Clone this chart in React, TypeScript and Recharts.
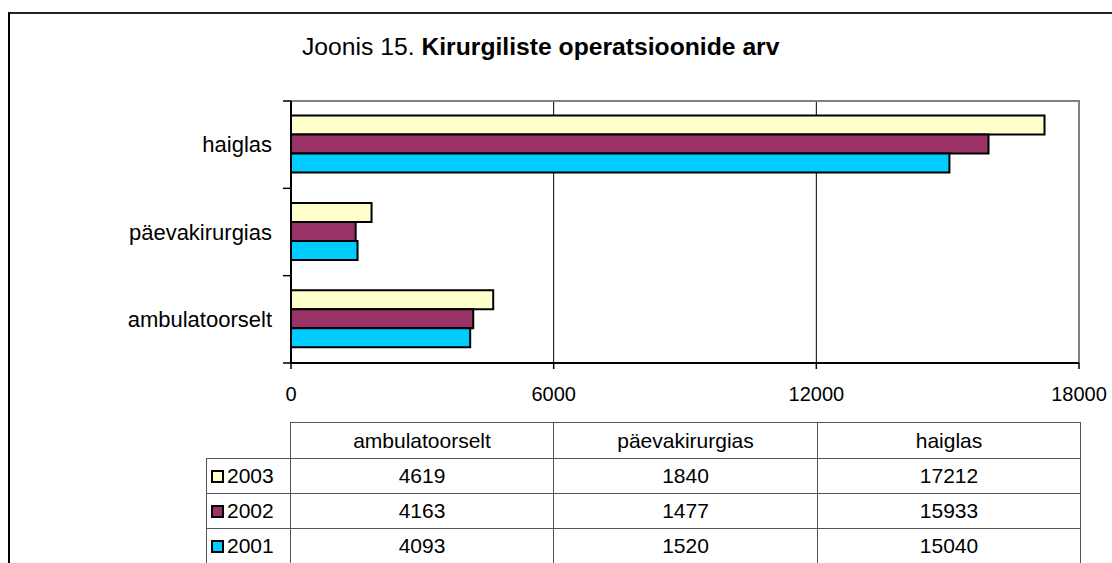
import React from 'react';
import {
  BarChart,
  Bar,
  XAxis,
  YAxis,
  CartesianGrid,
  ReferenceArea,
} from 'recharts';

// table order (left to right); the chart shows them bottom to top
const categories = ['ambulatoorselt', 'päevakirurgias', 'haiglas'];
const years = ['2003', '2002', '2001'];
const values2003 = [4619, 1840, 17212];
const values2002 = [4163, 1477, 15933];
const values2001 = [4093, 1520, 15040];
const xTicks = [0, 6000, 12000, 18000];

const FONT = '"Liberation Sans", Arial, sans-serif';
const COLORS: Record<string, string> = {
  '2003': '#FFFFCC',
  '2002': '#993366',
  '2001': '#00CCFF',
};
const seriesValues: Record<string, number[]> = {
  '2003': values2003,
  '2002': values2002,
  '2001': values2001,
};

const chartData = categories
  .map((cat, i) => ({
    cat,
    y2003: values2003[i],
    y2002: values2002[i],
    y2001: values2001[i],
  }))
  .reverse();

const X_TICK_STYLE = { fill: '#000', fontSize: 20, fontFamily: FONT };

function CategoryTick(props: any) {
  const { x, y, payload, index, visibleTicksCount, height } = props;
  const half = payload?.offset || height / visibleTicksCount / 2;
  const axisX = x + 19;
  const isLast = index === visibleTicksCount - 1;
  return (
    <g>
      <line x1={axisX - 8} x2={axisX} y1={y - half} y2={y - half} stroke="#000" strokeWidth={1.5} />
      {isLast && (
        <line x1={axisX - 8} x2={axisX} y1={y + half} y2={y + half} stroke="#000" strokeWidth={1.5} />
      )}
      <text x={x} y={y} dy="0.355em" textAnchor="end" fill="#000" fontSize={22} fontFamily={FONT}>
        {payload.value}
      </text>
    </g>
  );
}

const cellStyle: React.CSSProperties = {
  border: '1px solid #555',
  padding: 0,
  height: 34,
  textAlign: 'center',
  verticalAlign: 'middle',
};

export default function App() {
  return (
    <div
      style={{
        position: 'absolute',
        left: 0,
        top: 0,
        width: 1112,
        height: 563,
        overflow: 'hidden',
        background: '#fff',
        fontFamily: FONT,
      }}
    >
      <div
        style={{
          position: 'absolute',
          left: 8,
          top: 12,
          width: 1300,
          height: 800,
          borderLeft: '2px solid #000',
          borderTop: '2px solid #222',
        }}
      />
      <div
        style={{
          position: 'absolute',
          left: 302,
          top: 34,
          fontSize: 24.7,
          lineHeight: '25px',
          whiteSpace: 'nowrap',
          color: '#000',
        }}
      >
        Joonis 15. <b>Kirurgiliste operatsioonide arv</b>
      </div>
      <div style={{ position: 'absolute', left: 0, top: 0 }}>
        <BarChart
          width={1112}
          height={563}
          data={chartData}
          layout="vertical"
          margin={{ top: 101, right: 33, bottom: 170, left: 91 }}
          barCategoryGap="16.7%"
          barGap={0}
        >
          <CartesianGrid horizontal={false} stroke="#000" strokeWidth={1} />
          <ReferenceArea
            x1={0}
            x2={18000}
            fill="none"
            stroke="#808080"
            strokeWidth={2}
            ifOverflow="visible"
          />
          <XAxis
            type="number"
            domain={[0, 18000]}
            ticks={xTicks}
            interval={0}
            axisLine={{ stroke: '#000', strokeWidth: 2 }}
            tickLine={{ stroke: '#000', strokeWidth: 1.5 }}
            tickSize={6}
            tickMargin={18}
            tick={X_TICK_STYLE}
          />
          <YAxis
            type="category"
            dataKey="cat"
            width={200}
            axisLine={{ stroke: '#000', strokeWidth: 2 }}
            tickLine={false}
            tickSize={8}
            tickMargin={11}
            interval={0}
            tick={<CategoryTick />}
          />
          {years.map((yr) => (
            <Bar
              key={yr}
              dataKey={`y${yr}`}
              name={yr}
              fill={COLORS[yr]}
              stroke="#000"
              strokeWidth={2}
              isAnimationActive={false}
            />
          ))}
        </BarChart>
      </div>
      <table
        style={{
          position: 'absolute',
          left: 206,
          top: 422,
          borderCollapse: 'collapse',
          tableLayout: 'fixed',
          fontSize: 21,
          fontFamily: FONT,
          color: '#000',
        }}
      >
        <colgroup>
          <col style={{ width: 84 }} />
          <col style={{ width: 263 }} />
          <col style={{ width: 264 }} />
          <col style={{ width: 263 }} />
        </colgroup>
        <tbody>
          <tr>
            <td style={{ ...cellStyle, border: 'none', height: 35 }} />
            {categories.map((c) => (
              <td key={c} style={{ ...cellStyle, height: 35 }}>
                {c}
              </td>
            ))}
          </tr>
          {years.map((yr) => (
            <tr key={yr}>
              <td style={{ ...cellStyle, textAlign: 'left', paddingLeft: 4 }}>
                <span
                  style={{
                    display: 'inline-block',
                    width: 9,
                    height: 9,
                    border: '2px solid #000',
                    background: COLORS[yr],
                    marginRight: 3,
                    verticalAlign: 'middle',
                    position: 'relative',
                    top: -1,
                  }}
                />
                {yr}
              </td>
              {seriesValues[yr].map((v, i) => (
                <td key={i} style={cellStyle}>
                  {v}
                </td>
              ))}
            </tr>
          ))}
        </tbody>
      </table>
    </div>
  );
}
